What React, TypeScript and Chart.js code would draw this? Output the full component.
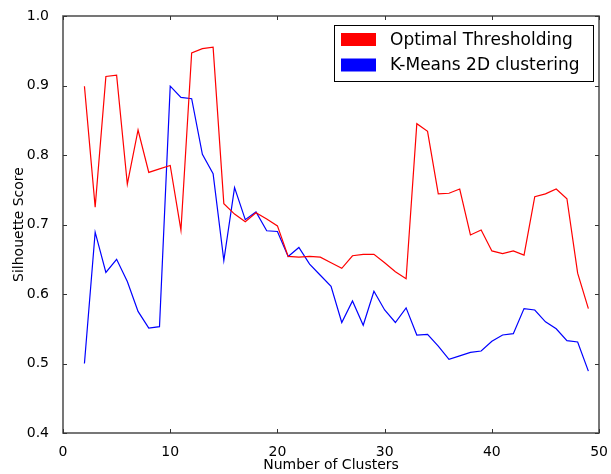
import React, { useEffect, useRef } from "react";
import { Chart, registerables } from "chart.js";

Chart.register(...registerables);

const clusters = [2,3,4,5,6,7,8,9,10,11,12,13,14,15,16,17,18,19,20,21,22,23,24,25,26,27,28,29,30,31,32,33,34,35,36,37,38,39,40,41,42,43,44,45,46,47,48,49];
const optimalThresholding = [0.899,0.725,0.913,0.915,0.758,0.836,0.775,0.780,0.785,0.692,0.947,0.953,0.955,0.730,0.715,0.704,0.717,0.708,0.698,0.654,0.653,0.654,0.653,0.645,0.637,0.655,0.657,0.657,0.645,0.632,0.622,0.845,0.834,0.744,0.745,0.751,0.685,0.692,0.662,0.658,0.662,0.656,0.740,0.744,0.751,0.737,0.630,0.579];
const kMeans2D = [0.500,0.689,0.631,0.650,0.618,0.575,0.551,0.553,0.899,0.883,0.881,0.801,0.773,0.648,0.753,0.707,0.718,0.691,0.690,0.654,0.667,0.643,0.627,0.611,0.559,0.590,0.555,0.604,0.577,0.559,0.580,0.541,0.542,0.525,0.506,0.511,0.516,0.518,0.532,0.541,0.543,0.579,0.577,0.560,0.550,0.533,0.531,0.489];
const seriesLabels = ["Optimal Thresholding", "K-Means 2D clustering"];
const seriesColors = ["#ff0000", "#0000ff"];

const FONT = "'DejaVu Sans', sans-serif";

const framePlugin = {
  id: "frameTicks",
  afterDraw(chart: any) {
    const { ctx, chartArea: a, scales } = chart;
    ctx.save();
    ctx.strokeStyle = "#555";
    ctx.lineWidth = 1.6;
    const L = Math.round(a.left), R = Math.round(a.right);
    const T = Math.round(a.top), B = Math.round(a.bottom);
    ctx.strokeRect(L, T, R - L, B - T);
    const tl = 4;
    ctx.lineWidth = 1;
    ctx.strokeStyle = "#333";
    ctx.beginPath();
    scales.x.ticks.forEach((t: any) => {
      const px = Math.round(scales.x.getPixelForValue(t.value)) + 0.5;
      ctx.moveTo(px, B); ctx.lineTo(px, B - tl);
      ctx.moveTo(px, T); ctx.lineTo(px, T + tl);
    });
    scales.y.ticks.forEach((t: any) => {
      const py = Math.round(scales.y.getPixelForValue(t.value)) + 0.5;
      ctx.moveTo(L, py); ctx.lineTo(L + tl, py);
      ctx.moveTo(R, py); ctx.lineTo(R - tl, py);
    });
    ctx.stroke();

    // legend
    const bx = 334.5, by = 25.5, bw = 259, bh = 56;
    ctx.fillStyle = "#fff";
    ctx.fillRect(bx, by, bw, bh);
    ctx.strokeStyle = "#000";
    ctx.lineWidth = 1;
    ctx.strokeRect(bx, by, bw, bh);
    ctx.font = `17px ${FONT}`;
    ctx.textBaseline = "middle";
    chart.data.datasets.forEach((ds: any, i: number) => {
      const cy = 39.5 + i * 25.5;
      ctx.fillStyle = ds.borderColor;
      ctx.fillRect(341, cy - 6.5, 35, 13);
      ctx.fillStyle = "#000";
      ctx.fillText(ds.label, 390, cy + 1);
    });
    ctx.restore();
  },
};

export default function App() {
  const ref = useRef<HTMLCanvasElement>(null);
  useEffect(() => {
    document.body.style.margin = "0";
    const chart = new Chart(ref.current!, {
      type: "line",
      data: {
        datasets: [
          {
            label: seriesLabels[0],
            data: clusters.map((c, i) => ({ x: c, y: optimalThresholding[i] })),
            borderColor: seriesColors[0],
            backgroundColor: seriesColors[0],
            borderWidth: 1.2,
            pointRadius: 0,
            tension: 0,
          },
          {
            label: seriesLabels[1],
            data: clusters.map((c, i) => ({ x: c, y: kMeans2D[i] })),
            borderColor: seriesColors[1],
            backgroundColor: seriesColors[1],
            borderWidth: 1.2,
            pointRadius: 0,
            tension: 0,
          },
        ],
      },
      options: {
        animation: false,
        responsive: false,
        layout: { padding: { top: 16, right: 8, left: 0, bottom: 0 } },
        plugins: { legend: { display: false }, tooltip: { enabled: false } },
        scales: {
          x: {
            type: "linear",
            min: 0,
            max: 50,
            grid: { display: false },
            border: { display: false },
            ticks: { stepSize: 10, color: "#000", font: { family: FONT, size: 14 }, padding: 3, maxRotation: 0 },
            title: { display: true, text: "Number of Clusters", color: "#000", font: { family: FONT, size: 14 }, padding: { top: 0, bottom: 0 } },
            afterFit: (axis: any) => { axis.height = 41; },
          },
          y: {
            min: 0.4,
            max: 1.0,
            grid: { display: false },
            border: { display: false },
            ticks: { stepSize: 0.1, color: "#000", font: { family: FONT, size: 14 }, padding: 6, callback: (v: any) => Number(v).toFixed(1) },
            title: { display: true, text: "Silhouette Score", color: "#000", font: { family: FONT, size: 14 }, padding: { top: 11, bottom: 0 } },
            afterFit: (axis: any) => { axis.width = 63; },
          },
        },
      },
      plugins: [framePlugin],
    });
    return () => chart.destroy();
  }, []);
  return <canvas ref={ref} width={611} height={474} style={{ display: "block" }} />;
}
